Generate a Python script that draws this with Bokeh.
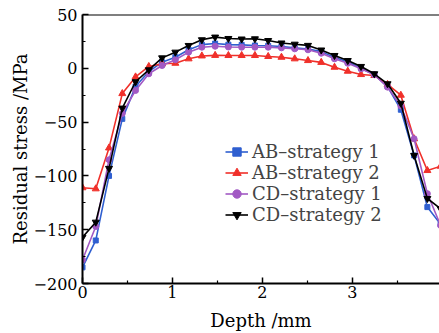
from bokeh.plotting import figure
from bokeh.models import Range1d, FixedTicker, Span, Legend, LegendItem
from bokeh.embed import file_html
from bokeh.resources import INLINE

# Depth positions (mm), measured spacing ~0.1475 mm
depth = [round(i * 0.1475, 4) for i in range(28)]

ab_strategy_1 = [-185, -160, -100, -47, -17, -3, 5.7, 10.3, 17.2, 22, 23, 22, 21.8, 21.2,
                 20.9, 20.2, 19, 18, 15.5, 10, 6, 0, -6, -17, -38.5, -81, -129, -145]
ab_strategy_2 = [-111, -112, -74, -23.5, -8, 1.7, 4.2, 4.7, 8.8, 11.5, 12, 11.9, 11.9, 11.9,
                 11, 10.3, 8.8, 7.2, 5.5, 1, -2.7, -5.8, -6.7, -15, -25, -65.5, -95, -91]
cd_strategy_1 = [-178, -147, -85, -42, -20.6, -5.1, 2.6, 7.9, 15, 19.6, 20.5, 19.8, 19.6, 19.6,
                 19.6, 19, 18.1, 17.2, 14, 8.8, 4.7, -0.5, -6, -17.5, -35, -65.5, -116.5, -146]
cd_strategy_2 = [-157, -143, -93, -37, -12.5, -1.4, 9.7, 15, 21.2, 26.5, 29, 27.7, 27.2, 27.4,
                 25.8, 23.5, 22.4, 21.3, 17, 11.9, 7.2, 1.7, -5.1, -14.4, -32.5, -81, -121, -130.5]

series_labels = ["AB\u2013strategy 1", "AB\u2013strategy 2", "CD\u2013strategy 1", "CD\u2013strategy 2"]
series_colors = ["#2f5fd0", "#f0302a", "#a259c4", "#000000"]
series_markers = ["square", "triangle", "circle", "inverted_triangle"]
series_sizes = [5, 7, 6, 7]

x_ticks = [0, 1, 2, 3, 4]
y_ticks = [-200, -150, -100, -50, 0, 50]
y_tick_labels = ["\u2212200", "\u2212150", "\u2212100", "\u221250", "0", "50"]

FONT = "DejaVu Serif"

p = figure(width=439, height=333, output_backend="svg", toolbar_location=None,
           x_range=Range1d(0, 357.3 / 90), y_range=Range1d(-200, 50),
           min_border_left=82, min_border_right=0, min_border_top=14, min_border_bottom=50)
p.outline_line_color = None
p.grid.visible = False
p.background_fill_color = "white"
p.border_fill_color = "white"

for ax in (p.xaxis[0], p.yaxis[0]):
    ax.axis_line_width = 2
    ax.axis_line_color = "black"
    ax.major_tick_in = 6
    ax.major_tick_out = 0
    ax.minor_tick_in = 3
    ax.minor_tick_out = 0
    ax.major_tick_line_width = 1.5
    ax.minor_tick_line_width = 1.2
    ax.major_label_text_font = FONT
    ax.major_label_text_font_size = "16px"
    ax.major_label_text_color = "black"
    ax.axis_label_text_font = FONT
    ax.axis_label_text_font_size = "18px"
    ax.axis_label_text_font_style = "normal"
    ax.axis_label_text_color = "black"

p.xaxis.ticker = FixedTicker(ticks=x_ticks, minor_ticks=[0.5, 1.5, 2.5, 3.5])
p.yaxis.ticker = FixedTicker(ticks=y_ticks, minor_ticks=[-175, -125, -75, -25, 25])
p.yaxis.major_label_overrides = {t: l for t, l in zip(y_ticks, y_tick_labels)}
p.xaxis.axis_label = "Depth /mm"
p.yaxis.axis_label = "Residual stress /MPa"
p.xaxis.major_label_standoff = 2
p.yaxis.major_label_standoff = 5
p.xaxis.axis_label_standoff = 9
p.yaxis.axis_label_standoff = 0

p.add_layout(Span(location=50, dimension="width", line_color="black", line_width=2))

items = []
for vals, lab, col, mk, sz in zip([ab_strategy_1, ab_strategy_2, cd_strategy_1, cd_strategy_2],
                                   series_labels, series_colors, series_markers, series_sizes):
    r1 = p.line(depth, vals, line_color=col, line_width=1.6)
    r2 = p.scatter(depth, vals, marker=mk, size=sz, fill_color=col, line_color=col)
    items.append(LegendItem(label=lab, renderers=[r1, r2]))

legend = Legend(items=items, location=(143, 58), padding=0, margin=0, spacing=0,
                glyph_width=23, glyph_height=21, label_height=21, label_standoff=4,
                label_text_font=FONT, label_text_font_size="18px",
                border_line_color=None, background_fill_alpha=0)
p.add_layout(legend, "center")

open("out.html", "w").write(file_html(p, INLINE))
